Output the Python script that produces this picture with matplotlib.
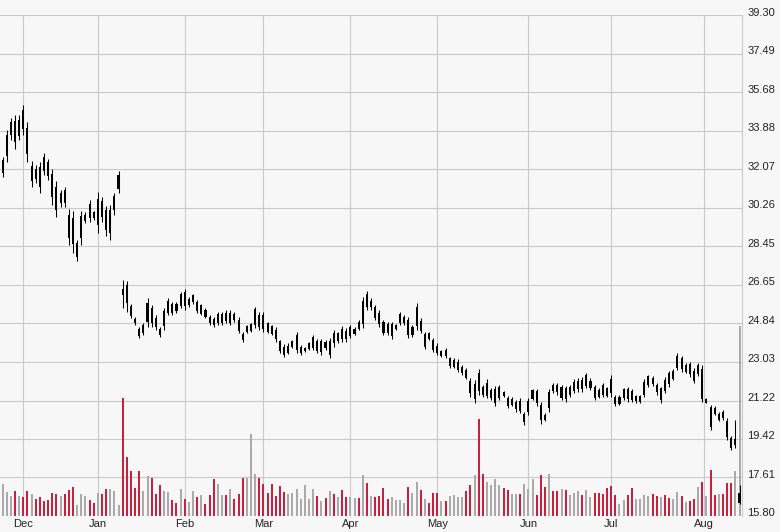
import numpy as np
import matplotlib
matplotlib.use("Agg")
import matplotlib.pyplot as plt
from matplotlib.transforms import ScaledTranslation

# ---------------- data ----------------
high = [
    32.65, 33.93, 34.49, 34.60, 34.60, 35.07, 34.29, 32.47, 32.26, 32.42,
    32.84, 32.54, 32.08, 31.53, 31.10, 31.25, 30.21, 30.11, 28.76, 30.13,
    30.08, 30.63, 30.13, 30.99, 30.78, 30.37, 30.40, 30.94, 31.98, 26.86,
    26.83, 25.77, 25.15, 24.68, 24.84, 26.01, 25.70, 25.23, 24.68, 25.54,
    26.01, 25.85, 25.85, 26.32, 26.47, 26.08, 26.24, 25.93, 25.77, 25.54,
    25.23, 25.15, 25.38, 25.38, 25.46, 25.46, 25.38, 25.15, 24.45, 24.76,
    24.84, 25.62, 25.38, 25.38, 24.92, 24.76, 24.68, 24.06, 23.85, 23.90,
    24.06, 24.45, 23.83, 23.75, 23.98, 24.29, 24.09, 24.09, 24.06, 24.14,
    24.53, 24.45, 24.71, 24.61, 24.76, 24.68, 24.99, 26.08, 26.36, 26.01,
    25.70, 25.49, 24.99, 24.92, 24.92, 24.81, 25.38, 25.23, 25.15, 24.76,
    25.80, 25.07, 24.45, 24.45, 24.14, 23.91, 23.59, 23.67, 23.28, 23.20,
    23.16, 22.89, 22.73, 22.26, 22.18, 22.68, 21.95, 22.21, 21.79, 21.90,
    21.95, 21.68, 21.43, 21.40, 21.25, 21.33, 20.70, 21.33, 21.75, 21.75,
    21.17, 20.63, 21.75, 22.03, 22.06, 21.95, 21.90, 21.95, 22.21, 22.26,
    22.34, 22.49, 22.26, 21.95, 21.79, 22.06, 21.87, 22.42, 21.48, 21.48,
    21.82, 21.87, 21.75, 21.48, 21.48, 22.21, 22.42, 22.37, 22.03, 21.87,
    22.31, 22.62, 22.68, 23.43, 23.30, 22.96, 23.04, 22.73, 22.96, 22.88,
    21.33, 21.01, 20.94, 20.70, 20.78, 20.39, 19.54, 20.31, 17.26]

low = [
    31.72, 32.42, 33.46, 33.04, 33.43, 33.67, 32.42, 31.25, 31.41, 30.94,
    31.80, 31.56, 30.40, 29.82, 30.32, 30.29, 28.53, 28.14, 27.75, 28.53,
    29.54, 29.62, 29.70, 29.07, 29.62, 28.92, 28.76, 29.93, 30.97, 25.54,
    25.38, 25.07, 24.76, 24.14, 24.29, 24.68, 24.68, 24.53, 24.22, 24.53,
    25.23, 25.23, 25.31, 25.54, 25.46, 25.62, 25.77, 25.31, 25.23, 25.07,
    24.76, 24.68, 24.76, 24.76, 24.84, 24.76, 24.92, 24.37, 23.98, 24.37,
    24.45, 24.61, 24.53, 24.45, 24.37, 24.29, 23.98, 23.45, 23.25, 23.40,
    23.67, 23.44, 23.36, 23.51, 23.59, 23.59, 23.44, 23.36, 23.59, 23.20,
    23.75, 23.91, 23.98, 23.98, 24.14, 24.29, 24.53, 24.61, 25.46, 25.49,
    24.99, 24.65, 24.29, 24.29, 24.09, 24.53, 24.76, 24.76, 24.14, 24.22,
    24.53, 24.37, 23.63, 24.06, 23.52, 23.36, 23.28, 23.20, 22.74, 22.74,
    22.58, 22.43, 22.21, 21.40, 21.12, 21.48, 21.40, 21.33, 21.25, 20.94,
    21.25, 21.40, 20.86, 20.94, 20.70, 20.63, 20.08, 20.55, 21.25, 20.97,
    20.13, 20.24, 20.70, 21.56, 21.48, 21.25, 21.17, 21.40, 21.56, 21.64,
    21.64, 21.79, 21.72, 21.25, 21.33, 21.40, 21.40, 21.40, 20.94, 21.01,
    21.25, 21.17, 21.17, 21.12, 21.09, 21.40, 21.87, 21.90, 21.48, 21.12,
    21.56, 21.87, 22.18, 22.65, 22.57, 22.49, 22.34, 22.03, 22.37, 21.17,
    21.09, 19.85, 20.55, 20.24, 20.31, 19.38, 18.91, 18.99, 16.35]

opens = [
    31.90, 32.70, 33.70, 34.35, 33.65, 34.85, 34.00, 31.50, 32.10, 32.20,
    32.65, 32.40, 31.85, 31.25, 30.50, 31.10, 29.95, 29.80, 27.95, 28.85,
    29.65, 30.45, 30.05, 29.45, 30.60, 30.15, 29.10, 30.15, 31.15, 26.45,
    26.65, 25.65, 25.05, 24.60, 24.40, 24.90, 25.55, 25.10, 24.60, 24.70,
    25.35, 25.75, 25.75, 25.65, 26.30, 25.70, 25.85, 25.85, 25.30, 25.45,
    25.15, 25.05, 24.85, 24.85, 25.35, 24.85, 25.30, 25.00, 24.35, 24.45,
    24.50, 24.75, 25.25, 25.25, 24.85, 24.70, 24.55, 24.00, 23.75, 23.45,
    23.75, 23.60, 23.45, 23.55, 23.65, 23.70, 24.00, 23.50, 23.95, 23.35,
    24.40, 24.00, 24.60, 24.50, 24.25, 24.35, 24.90, 24.80, 26.20, 25.60,
    25.60, 25.35, 24.90, 24.80, 24.25, 24.57, 24.85, 24.85, 25.00, 24.30,
    24.70, 24.95, 23.75, 24.40, 24.05, 23.80, 23.32, 23.60, 22.85, 22.80,
    22.65, 22.50, 22.65, 22.15, 21.30, 22.50, 21.85, 21.45, 21.35, 21.10,
    21.35, 21.63, 21.35, 21.00, 20.80, 21.20, 20.20, 20.70, 21.30, 21.65,
    21.00, 20.55, 20.85, 21.95, 21.95, 21.35, 21.80, 21.50, 21.65, 21.75,
    22.20, 21.90, 21.80, 21.85, 21.70, 21.95, 21.80, 22.25, 21.40, 21.08,
    21.35, 21.75, 21.65, 21.18, 21.15, 21.50, 21.95, 22.30, 21.95, 21.25,
    22.20, 22.50, 22.25, 22.75, 23.20, 22.55, 22.95, 22.60, 22.45, 22.70,
    21.12, 20.90, 20.85, 20.30, 20.70, 20.25, 19.45, 19.15, 16.90]

closes = [
    32.50, 33.70, 34.30, 33.35, 34.40, 33.95, 32.80, 32.25, 31.60, 31.25,
    32.00, 31.75, 30.75, 30.15, 30.95, 30.50, 28.85, 28.55, 28.60, 29.90,
    29.95, 29.80, 29.80, 30.70, 29.85, 29.20, 30.15, 30.80, 31.80, 26.15,
    25.80, 25.20, 24.85, 24.25, 24.75, 25.80, 24.85, 24.65, 24.30, 25.40,
    25.90, 25.35, 25.40, 26.20, 25.65, 26.00, 26.15, 25.40, 25.70, 25.15,
    24.85, 24.75, 25.30, 25.30, 24.95, 25.35, 25.00, 24.50, 24.05, 24.70,
    24.80, 25.50, 24.65, 24.60, 24.45, 24.35, 24.10, 23.55, 23.35, 23.80,
    24.00, 24.30, 23.75, 23.70, 23.90, 24.20, 23.55, 24.00, 23.70, 24.00,
    23.90, 24.40, 24.10, 24.10, 24.65, 24.60, 24.60, 25.90, 25.60, 25.90,
    25.10, 24.80, 24.40, 24.40, 24.80, 24.75, 25.30, 25.15, 24.30, 24.65,
    25.60, 24.50, 24.35, 24.10, 23.60, 23.45, 23.55, 23.30, 23.20, 23.10,
    23.05, 22.80, 22.30, 21.55, 22.00, 21.65, 21.50, 22.05, 21.70, 21.75,
    21.85, 21.45, 20.95, 21.30, 21.15, 20.75, 20.60, 21.20, 21.70, 21.10,
    20.30, 20.30, 21.60, 21.65, 21.60, 21.85, 21.30, 21.85, 22.10, 22.15,
    21.75, 22.40, 22.15, 21.35, 21.40, 21.50, 21.45, 21.55, 21.05, 21.40,
    21.75, 21.30, 21.25, 21.42, 21.42, 22.10, 22.35, 22.00, 21.60, 21.80,
    21.65, 22.00, 22.60, 23.30, 22.70, 22.90, 22.45, 22.15, 22.90, 21.30,
    21.30, 20.00, 20.60, 20.60, 20.40, 19.50, 19.00, 19.40, 16.42]

volume = [
    3.2, 2.4, 2.0, 2.5, 2.0, 1.9, 2.5, 2.2, 1.7, 1.9,
    1.5, 1.6, 2.3, 2.2, 2.0, 2.2, 2.6, 2.9, 1.1, 2.2,
    2.0, 1.6, 1.3, 2.3, 2.2, 2.7, 2.7, 2.5, 1.1, 11.8,
    5.9, 4.5, 2.8, 4.5, 2.5, 4.0, 3.8, 2.2, 3.1, 2.5,
    2.4, 1.6, 1.3, 2.7, 1.7, 1.4, 2.5, 1.9, 2.1, 1.2,
    2.1, 3.7, 3.2, 2.1, 2.1, 2.7, 1.7, 2.2, 3.8, 3.8,
    8.2, 4.2, 3.8, 3.2, 2.3, 3.2, 2.0, 3.0, 2.4, 2.2,
    2.3, 2.7, 1.7, 3.1, 1.7, 2.7, 2.0, 1.5, 1.8, 2.5,
    2.2, 1.9, 2.6, 1.9, 1.9, 1.8, 1.8, 4.1, 3.3, 2.0,
    1.9, 2.0, 2.8, 1.7, 1.9, 1.6, 1.6, 1.3, 2.9, 2.3,
    3.4, 2.6, 1.7, 1.3, 2.3, 2.3, 1.5, 1.5, 2.0, 2.1,
    1.9, 1.9, 2.5, 3.1, 4.1, 9.7, 4.2, 3.4, 3.1, 3.7,
    3.1, 2.8, 2.6, 2.2, 2.2, 2.2, 3.2, 2.7, 3.7, 2.1,
    4.1, 2.9, 4.2, 2.5, 2.5, 2.7, 2.6, 2.1, 2.3, 2.5,
    2.1, 2.6, 1.9, 2.3, 2.3, 2.2, 2.8, 3.0, 2.1, 1.2,
    1.6, 2.1, 2.8, 1.7, 1.7, 2.1, 2.0, 2.2, 2.0, 1.9,
    2.1, 1.8, 1.7, 2.4, 2.0, 1.4, 1.5, 1.7, 2.9, 3.4,
    2.0, 4.6, 2.1, 2.2, 2.2, 3.3, 3.3, 4.5, 19.0]

# g = up day (grey volume), r = down day (red volume)
vol_dir = ("gggrgrrgrr" "rrrrgrrrgg" "grrgrrgggr" "rrrrggrrrg" "grrgrggrgr"
           "rrggrgrrrg" "ggrrrrrrrg" "ggggggrgrg" "rgrrggrgrg" "rrrrggggrg"
           "grgrrrgrgg" "ggrrgrrggg" "grrggrgggr" "rrgrrgrggg" "rggrrrrrrg"
           "grrggggrrg" "rrggrgrrgr" "grrgrrrgg")

month_labels = ["Dec", "Jan", "Feb", "Mar", "Apr", "May", "Jun", "Jul", "Aug"]
month_pos = [5, 23, 44, 63, 84, 105, 127, 147, 169.5]
price_ticks = [15.80, 17.61, 19.42, 21.22, 23.03, 24.84, 26.65, 28.45,
               30.26, 32.07, 33.88, 35.68, 37.49, 39.30]

# ---------------- styling ----------------
BG = "#f7f7f7"
GRID = "#c9c9c9"
RED = "#c8203f"
GREY = "#aaaaaa"
TEXT = "#222222"
plt.rcParams['font.family'] = ['Liberation Sans', 'DejaVu Sans']

o = np.array(opens)
c = np.array(closes)
hi = np.array(high)
lo = np.array(low)
x = np.arange(len(hi))

fig = plt.figure(figsize=(7.8, 5.32), dpi=100, facecolor=BG)
rect = [0.0, 16 / 532, 742.3 / 780, 500.7 / 532]
ax = fig.add_axes(rect, facecolor=BG)
ax_v = fig.add_axes(rect, sharex=ax, facecolor="none")
ax_c = fig.add_axes(rect, sharex=ax, sharey=ax, facecolor="none")

# base axes: grid + ticks
ax.set_xlim(-0.63, 178.67)
ax.set_ylim(15.80, 39.30)
ax.set_yticks(price_ticks)
ax.set_yticklabels([f"{t:.2f}" for t in price_ticks])
ax.yaxis.tick_right()
ax.set_xticks(month_pos)
ax.set_xticklabels(month_labels)
ax.tick_params(axis="y", length=0, pad=3.6, labelsize=8, labelcolor=TEXT)
ax.tick_params(axis="x", length=0, pad=2.0, labelsize=8, labelcolor=TEXT)
ax.grid(True, color=GRID, linewidth=0.8)
ax.set_axisbelow(True)
for s in ["left", "top", "bottom"]:
    ax.spines[s].set_visible(False)
ax.spines["right"].set_color(GRID)
ax.spines["right"].set_linewidth(0.8)

off = ScaledTranslation(0, 3.5 / 100, fig.dpi_scale_trans)
for lbl in ax.get_yticklabels():
    lbl.set_transform(lbl.get_transform() + off)

# volume
ax_v.bar(x, volume, width=0.48, color=[RED if d == "r" else GREY for d in vol_dir],
         linewidth=0)
ax_v.set_ylim(0, 50.07)
ax_v.axis("off")

# price candles (black)
ax_c.vlines(x, lo, hi, color="black", linewidth=0.75)
ax_c.bar(x, np.abs(c - o), bottom=np.minimum(o, c), width=0.5, color="black",
         linewidth=0)
ax_c.axis("off")

fig.savefig("out.png", dpi=100, facecolor=BG)
